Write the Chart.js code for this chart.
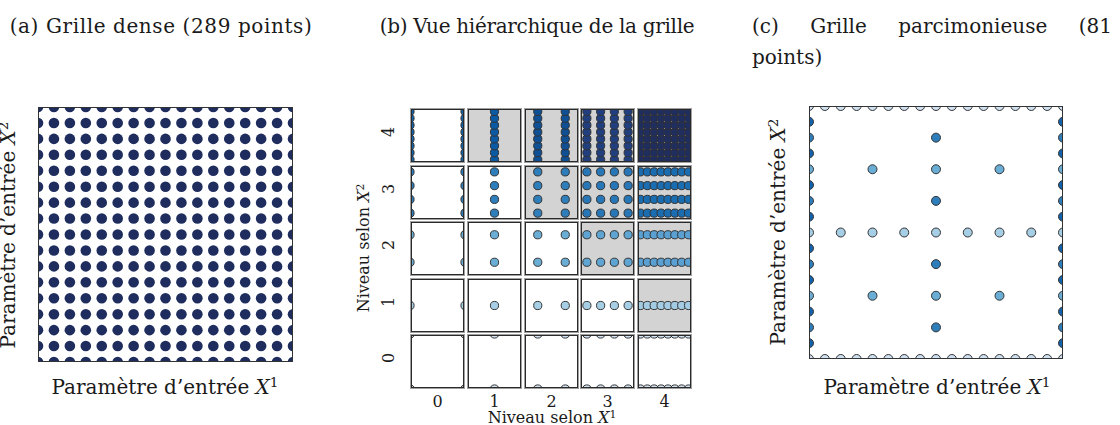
<!DOCTYPE html>
<html>
<head>
<meta charset="utf-8">
<script src="https://cdn.jsdelivr.net/npm/chart.js@4.4.0/dist/chart.umd.min.js"></script>
<style>
html, body { margin: 0; padding: 0; background: #fff; }
body { width: 1120px; height: 425px; position: relative; overflow: hidden;
       font-family: "DejaVu Serif", serif; color: #1a1a1a; }
canvas { position: absolute; }
.t { position: absolute; white-space: nowrap; line-height: 1; transform: translate(-50%, -50%); }
.r { transform: translate(-50%, -50%) rotate(-90deg); }
.big { font-size: 20px; }
.small { font-size: 16px; }
i { font-style: italic; }
sup { font-size: 0.68em; line-height: 0; vertical-align: 0.5em; font-style: normal; }
.just { position: absolute; left: 752px; width: 360px; display: flex; justify-content: space-between;
        font-size: 20px; line-height: 1; white-space: nowrap; }
</style>
</head>
<body>

<div class="t big" style="left:161px;top:26px;letter-spacing:0.6px">(a) Grille dense (289 points)</div>
<div class="t big" style="left:537px;top:26px;letter-spacing:-0.3px">(b) Vue hiérarchique de la grille</div>
<div class="just" style="top:16px"><span>(c)</span><span>Grille</span><span>parcimonieuse</span><span>(81</span></div>
<div class="just" style="top:47px"><span>points)</span></div>

<div class="t big" style="left:165px;top:387px">Paramètre d’entrée <i>X</i><sup>1</sup></div>
<div class="t big r" style="left:8px;top:235px">Paramètre d’entrée <i>X</i><sup>2</sup></div>
<div class="t big" style="left:937px;top:387px">Paramètre d’entrée <i>X</i><sup>1</sup></div>
<div class="t big r" style="left:778px;top:232px">Paramètre d’entrée <i>X</i><sup>2</sup></div>

<div class="t small" style="left:552px;top:418px">Niveau selon <i>X</i><sup>1</sup></div>
<div class="t small r" style="left:364px;top:248px">Niveau selon <i>X</i><sup>2</sup></div>
<div id="ticks"></div>

<script>
// Grille dense, vue hiérarchique, grille parcimonieuse (Chart.js 4)

const levels = [0, 1, 2, 3, 4];

// abscisses nouvelles introduites à chaque niveau hiérarchique
const levelCoords = [
    [0, 1],
    [0.5],
    [0.25, 0.75],
    [0.125, 0.375, 0.625, 0.875],
    [0.0625, 0.1875, 0.3125, 0.4375, 0.5625, 0.6875, 0.8125, 0.9375]
];

// grille dense 17 x 17
const denseCoords = [0, 0.0625, 0.125, 0.1875, 0.25, 0.3125, 0.375, 0.4375, 0.5,
                     0.5625, 0.625, 0.6875, 0.75, 0.8125, 0.875, 0.9375, 1];

// cases grisées de la vue hiérarchique [niveau X1, niveau X2]
const shadedCells = [[1, 4], [2, 4], [3, 4], [4, 4], [2, 3], [3, 3], [4, 3], [3, 2], [4, 2], [4, 1]];

// la grille parcimonieuse garde les cases avec niveau X1 + niveau X2 <= 4
const sparseMaxLevel = 4;

const tickLabels = ["0", "1", "2", "3", "4"];

// couleurs
const denseColor = "#1f2d5e";
const cellColors = [ // [niveau X2][niveau X1]
    ["#d0e1f2", "#d0e1f2", "#d0e1f2", "#d0e1f2", "#d0e1f2"],
    ["#a6cee4", "#a6cee4", "#a6cee4", "#a6cee4", "#a3cce4"],
    ["#6aaed6", "#6aaed6", "#6aaed6", "#5ea5d4", "#5aa0d2"],
    ["#2f7ebc", "#2f7ebc", "#2f7ebc", "#2777b8", "#1b6db1"],
    ["#1262ac", "#0b59a3", "#0f4f93", "#213f7e", "#1f2d5f"]
];

// cadre (et fond) de chaque axe
const framePlugin = {
    id: "frame",
    beforeDatasetsDraw: function (chart, args, opts) {
        if (!opts.fill) return;
        var a = chart.chartArea, ctx = chart.ctx;
        ctx.save();
        ctx.fillStyle = opts.fill;
        ctx.fillRect(a.left, a.top, a.right - a.left, a.bottom - a.top);
        ctx.restore();
    },
    afterDatasetsDraw: function (chart, args, opts) {
        var a = chart.chartArea, ctx = chart.ctx;
        var w = a.right - a.left, h = a.bottom - a.top;
        ctx.save();
        ctx.lineWidth = 1;
        ctx.strokeStyle = opts.outer;
        ctx.strokeRect(a.left + 0.5, a.top + 0.5, w - 1, h - 1);
        if (opts.inner) {
            ctx.strokeStyle = opts.inner;
            ctx.strokeRect(a.left + 1.5, a.top + 1.5, w - 3, h - 3);
        }
        ctx.restore();
    }
};

function makeCanvas(left, top, w, h) {
    var c = document.createElement("canvas");
    c.width = w;
    c.height = h;
    c.style.left = left + "px";
    c.style.top = top + "px";
    c.style.width = w + "px";
    c.style.height = h + "px";
    document.body.appendChild(c);
    return c;
}

function unitScatter(canvas, datasets, frame) {
    return new Chart(canvas, {
        type: "scatter",
        data: { datasets: datasets },
        options: {
            responsive: false,
            animation: false,
            events: [],
            layout: { padding: 0, autoPadding: false },
            scales: {
                x: { type: "linear", min: 0, max: 1, display: false },
                y: { type: "linear", min: 0, max: 1, display: false }
            },
            plugins: {
                legend: { display: false },
                tooltip: { enabled: false },
                frame: frame
            }
        },
        plugins: [framePlugin]
    });
}

function cellPoints(i, j) {
    var pts = [];
    levelCoords[i].forEach(function (x) {
        levelCoords[j].forEach(function (y) { pts.push({ x: x, y: y }); });
    });
    return pts;
}

function dotSet(points, color, radius) {
    return {
        data: points,
        pointRadius: radius,
        pointHoverRadius: radius,
        pointBackgroundColor: color,
        pointBorderColor: "#333",
        pointBorderWidth: 1,
        clip: 0
    };
}

// (a) grille dense
var densePts = [];
denseCoords.forEach(function (x) {
    denseCoords.forEach(function (y) { densePts.push({ x: x, y: y }); });
});
unitScatter(makeCanvas(38, 107, 255, 255), [{
    data: densePts,
    pointRadius: 5.3,
    pointBackgroundColor: denseColor,
    pointBorderWidth: 0,
    clip: 0
}], { outer: "#333" });

// (b) vue hiérarchique : une petite figure par couple de niveaux
function isShaded(i, j) {
    return shadedCells.some(function (c) { return c[0] === i && c[1] === j; });
}
var cellSize = 55;
function cellLeft(i) { return Math.round(410 + 56.75 * i); }
function cellTop(j) { return Math.round(108 + 56.5 * (4 - j)); }

levels.forEach(function (j) {
    levels.forEach(function (i) {
        unitScatter(makeCanvas(cellLeft(i), cellTop(j), cellSize, cellSize),
            [dotSet(cellPoints(i, j), cellColors[j][i], 4.1)],
            { outer: "#a0a0a0", inner: "#2a2a2a", fill: isShaded(i, j) ? "#d3d3d3" : null });
    });
});

var ticks = document.getElementById("ticks");
levels.forEach(function (k) {
    var tx = document.createElement("div");
    tx.className = "t small";
    tx.textContent = tickLabels[k];
    tx.style.left = (cellLeft(k) + cellSize / 2) + "px";
    tx.style.top = "402px";
    ticks.appendChild(tx);

    var ty = document.createElement("div");
    ty.className = "t small r";
    ty.textContent = tickLabels[k];
    ty.style.left = "389px";
    ty.style.top = (cellTop(k) + cellSize / 2 - 4) + "px";
    ticks.appendChild(ty);
});

// (c) grille parcimonieuse : union des cases i + j <= 4
var sparseSets = [];
levels.forEach(function (j) {
    levels.forEach(function (i) {
        if (i + j <= sparseMaxLevel) {
            sparseSets.push(dotSet(cellPoints(i, j), cellColors[j][i], 4.5));
        }
    });
});
unitScatter(makeCanvas(809, 106, 254, 253), sparseSets, { outer: "#333" });
</script>
</body>
</html>
